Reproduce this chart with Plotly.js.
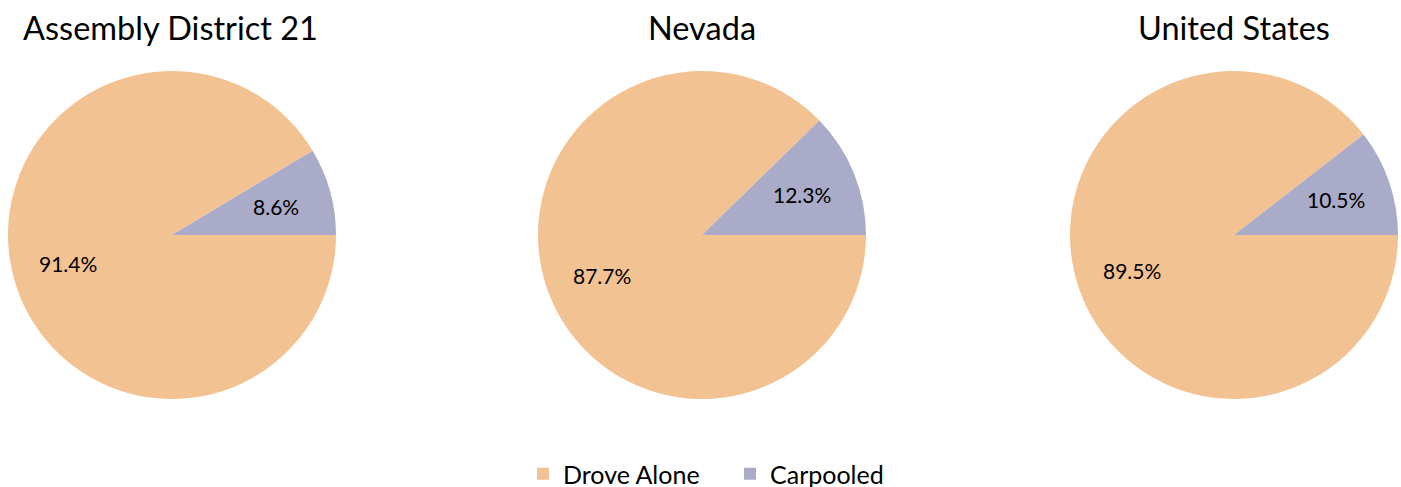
<!DOCTYPE html>
<html>
<head>
<meta charset="utf-8">
<script src="https://cdn.plot.ly/plotly-3.0.1.min.js"></script>
<style>html,body{margin:0;padding:0;background:#fff;}#chart{width:1401px;height:487px;}</style>
</head>
<body>
<div id="chart"></div>
<script>
const categories = ["Drove Alone", "Carpooled"];
const regions = ["Assembly District 21", "Nevada", "United States"];
const district21 = [91.4, 8.6];
const nevada = [87.7, 12.3];
const unitedStates = [89.5, 10.5];
const colors = ["#F3C292", "#A9ABC9"];

const seriesList = [district21, nevada, unitedStates];
const W = 1401, H = 487;
const domainsX = [[8 / W, 336 / W], [538 / W, 866 / W], [1070 / W, 1398 / W]];
const domainY = [1 - 399 / H, 1 - 71 / H];
const FONT = "Lato, 'Open Sans', sans-serif";
const LABEL_R = 0.66;

const traces = seriesList.map((vals, i) => ({
  type: "pie",
  labels: categories,
  values: vals,
  name: regions[i],
  sort: false,
  direction: "clockwise",
  rotation: 90,
  marker: { colors: colors, line: { width: 0 } },
  textinfo: "none",
  hoverinfo: "label+percent",
  domain: { x: domainsX[i], y: domainY },
  showlegend: i === 0
}));

const annotations = [];
regions.forEach((r, i) => {
  const cxp = (domainsX[i][0] + domainsX[i][1]) / 2;
  const cyp = (domainY[0] + domainY[1]) / 2;
  annotations.push({
    text: r,
    xref: "paper", yref: "paper",
    x: i === 0 ? cxp - 2 / W : cxp, y: 1 - 28 / H,
    xanchor: "center", yanchor: "middle",
    showarrow: false,
    font: { family: FONT, size: 32.5, color: "#000" }
  });
  // percentage labels at ~2/3 radius along each slice's mid-angle
  const vals = seriesList[i];
  const total = vals.reduce((a, b) => a + b, 0);
  const radiusPx = 0.5 * Math.min((domainsX[i][1] - domainsX[i][0]) * W, (domainY[1] - domainY[0]) * H);
  let cum = 0;
  vals.forEach((v) => {
    const mid = -(cum + v / 2) / total * 2 * Math.PI;
    cum += v;
    const dx = LABEL_R * radiusPx * Math.cos(mid);
    const dy = LABEL_R * radiusPx * Math.sin(mid);
    annotations.push({
      text: (v / total * 100).toFixed(1) + "%",
      xref: "paper", yref: "paper",
      x: cxp + dx / W, y: cyp + dy / H,
      xanchor: "center", yanchor: "middle",
      showarrow: false,
      font: { family: FONT, size: 21, color: "#000" }
    });
  });
});

const layout = {
  width: W, height: H,
  margin: { l: 0, r: 0, t: 0, b: 0, autoexpand: false },
  paper_bgcolor: "#fff",
  showlegend: true,
  legend: {
    orientation: "h",
    x: 523 / W, xanchor: "left",
    y: 1 - 474 / H, yanchor: "middle",
    font: { family: FONT, size: 25, color: "#000" },
    entrywidth: 162,
    entrywidthmode: "pixels",
    traceorder: "normal"
  },
  annotations: annotations
};

Plotly.newPlot("chart", traces, layout, { displayModeBar: false, staticPlot: true });
</script>
</body>
</html>
